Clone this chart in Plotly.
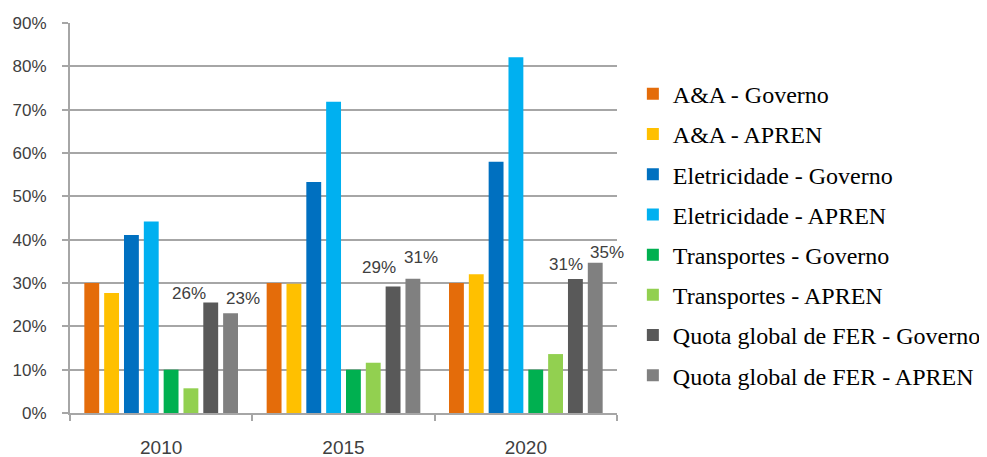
import plotly.graph_objects as go

years = ["2010", "2015", "2020"]
series_names = [
    "A&A - Governo", "A&A - APREN",
    "Eletricidade - Governo", "Eletricidade - APREN",
    "Transportes - Governo", "Transportes - APREN",
    "Quota global de FER - Governo", "Quota global de FER - APREN",
]
aa_gov = [30, 30, 30]
aa_apren = [27.7, 29.8, 32.0]
elec_gov = [41.1, 53.3, 58.0]
elec_apren = [44.2, 71.8, 82.1]
trans_gov = [10, 10, 10]
trans_apren = [5.7, 11.6, 13.6]
quota_gov = [25.5, 29.2, 30.9]
quota_apren = [23.0, 31.0, 34.7]
quota_gov_labels = ["26%", "29%", "31%"]
quota_apren_labels = ["23%", "31%", "35%"]

values = [aa_gov, aa_apren, elec_gov, elec_apren, trans_gov, trans_apren, quota_gov, quota_apren]
colors = ["#E46C0A", "#FFC000", "#0070C0", "#00B0F0", "#00B050", "#92D050", "#595959", "#808080"]

BARGAP = 0.13
N = len(series_names)

fig = go.Figure()
for i, (name, vals, col) in enumerate(zip(series_names, values, colors)):
    fig.add_trace(go.Bar(
        x=years, y=vals, name=name, marker_color=col, marker_line_width=0,
        legendgroup=f"g{i}", cliponaxis=False, hoverinfo="skip",
    ))

# bar centre offsets inside a category group (in category units)
slot = (1 - BARGAP) / N
off_gov = -(1 - BARGAP) / 2 + 6.5 * slot
off_apren = -(1 - BARGAP) / 2 + 7.5 * slot

# label nudges (pixels) like in the source
gov_shift = [(-22, -2), (-14, 7), (-9, 3)]
apren_shift = [(12, 3), (8, 10), (12, -1)]
lab_font = dict(family="Liberation Sans", size=17, color="#404040")
for j in range(len(years)):
    fig.add_annotation(x=j + off_gov, y=quota_gov[j], text=quota_gov_labels[j], showarrow=False,
                       xref="x", yref="y", yanchor="bottom",
                       xshift=gov_shift[j][0], yshift=gov_shift[j][1], font=lab_font)
    fig.add_annotation(x=j + off_apren, y=quota_apren[j], text=quota_apren_labels[j], showarrow=False,
                       xref="x", yref="y", yanchor="bottom",
                       xshift=apren_shift[j][0], yshift=apren_shift[j][1], font=lab_font)

fig.update_layout(
    barmode="group",
    width=987, height=457,
    margin=dict(l=62, r=378, t=15, b=52, autoexpand=False),
    paper_bgcolor="white", plot_bgcolor="white",
    bargap=BARGAP, bargroupgap=0.25,
    font=dict(family="Liberation Sans", color="#404040"),
    xaxis=dict(
        type="category", range=[-0.5, 2.5], showline=True, linecolor="#a6a6a6", linewidth=2,
        ticks="outside", tickson="boundaries", ticklen=6, tickcolor="#a6a6a6", tickwidth=2,
        tickfont=dict(family="Liberation Sans", size=19, color="#404040"),
        ticklabelstandoff=16, showgrid=False, tickangle=0, automargin=False,
    ),
    yaxis=dict(
        range=[0, 90], dtick=10, ticksuffix="%",
        showline=True, linecolor="#a6a6a6", linewidth=2,
        ticks="outside", ticklen=6, tickcolor="#a6a6a6", tickwidth=2,
        showgrid=True, gridcolor="#a6a6a6", gridwidth=2,
        tickfont=dict(family="Liberation Sans", size=17, color="#404040"),
        ticklabelstandoff=12, zeroline=False, automargin=False,
    ),
    legend=dict(
        x=1.029, xanchor="left", y=0.875, yanchor="top",
        font=dict(family="Liberation Serif", size=24, color="#000000"),
        tracegroupgap=6, itemwidth=30, traceorder="grouped",
    ),
    showlegend=True,
)

fig.write_html("out.html")
